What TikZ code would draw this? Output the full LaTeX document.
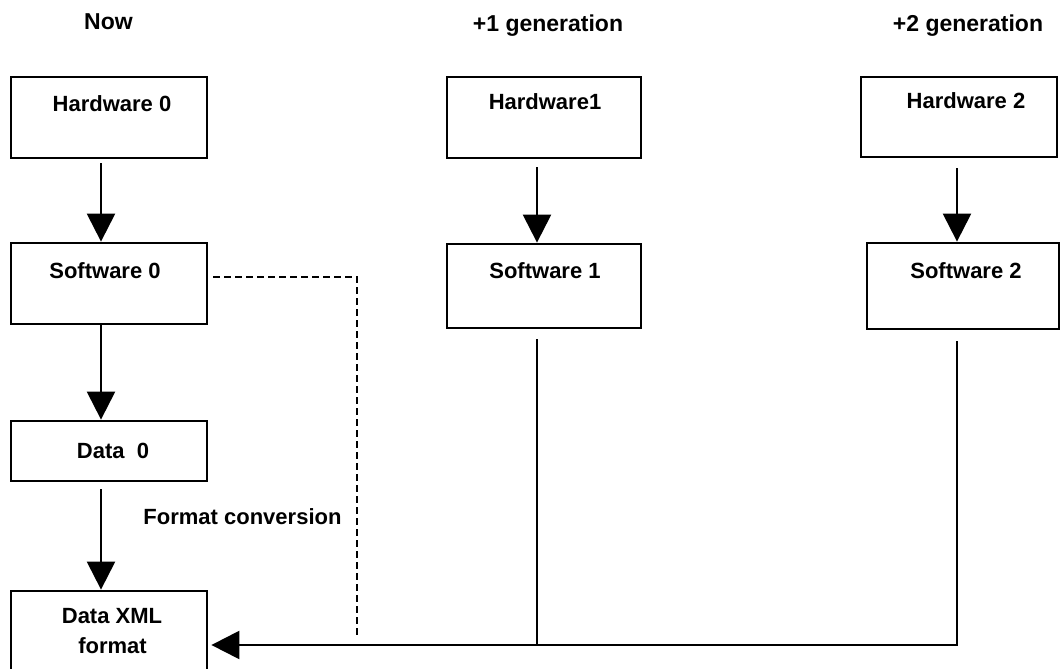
\documentclass[tikz,border=0pt]{standalone}
\usepackage{fontspec}
\setmainfont{Liberation Sans}
\usetikzlibrary{arrows.meta}
\begin{document}
\begin{tikzpicture}[x=1pt,y=-1pt,
  box/.style={draw, line width=2.8pt, inner sep=0pt},
  lbl/.style={font=\fontsize{22}{26}\selectfont\bfseries, inner sep=0pt, anchor=base},
  hdr/.style={font=\fontsize{23}{27}\selectfont\bfseries, inner sep=0pt, anchor=base},
  link/.style={line width=2.3pt},
  arr/.style={link, -{Triangle[length=28pt,width=28pt]}},
  conv/.style={line width=2.3pt, dash pattern=on 7pt off 4pt}]
\clip (0,0) rectangle (1061,669);

% column headings
\node[hdr] (hnow) at (108.5,30) {Now};
\node[hdr] (hone) at (548,32) {+1 generation};
\node[hdr] (htwo) at (968,32) {+2 generation};

% current generation
\node[box, minimum width=196pt, minimum height=81pt] (h0) at (109,117.5) {};
\node[lbl] (h0t) at (112,111) {Hardware 0};
\node[box, minimum width=196pt, minimum height=81pt] (s0) at (109,283.5) {};
\node[lbl] (s0t) at (105,278) {Software 0};
\node[box, minimum width=196pt, minimum height=60pt] (d0) at (109,451) {};
\node[lbl] (d0t) at (113,458) {Data~ 0};
\node[box, minimum width=196pt, minimum height=108pt] (dx) at (109,645) {};
\node[lbl] (dxt1) at (112,623) {Data XML};
\node[lbl] (dxt2) at (112.5,653) {format};

% next generation
\node[box, minimum width=194pt, minimum height=81pt] (h1) at (544,117.5) {};
\node[lbl] (h1t) at (545,110) {Hardware1};
\node[box, minimum width=194pt, minimum height=84pt] (s1) at (544,286) {};
\node[lbl] (s1t) at (545,278) {Software 1};

% generation after next
\node[box, minimum width=196pt, minimum height=80pt] (h2) at (959,117) {};
\node[lbl] (h2t) at (966,109) {Hardware 2};
\node[box, minimum width=192pt, minimum height=86pt] (s2) at (963,286) {};
\node[lbl] (s2t) at (966,278) {Software 2};

\node[lbl] (fc) at (242.5,524) {Format conversion};

% vertical flow arrows
\draw[arr] ([xshift=-8pt,yshift=-4pt]h0.south) -- ([xshift=-8pt]s0.north);
\draw[arr] ([xshift=-8pt]s0.south) -- ([xshift=-8pt]d0.north);
\draw[arr] ([xshift=-8pt,yshift=-7pt]d0.south) -- ([xshift=-8pt]dx.north);
\draw[arr] ([xshift=-7pt,yshift=-8pt]h1.south) -- ([xshift=-7pt]s1.north);
\draw[arr] ([xshift=-2pt,yshift=-10pt]h2.south) -- ([xshift=-6pt]s2.north);

% later generations read back the XML data
\coordinate (j1) at (537,645);
\draw[arr] ([xshift=-6pt,yshift=-11pt]s2.south) |- ([xshift=3pt]dx.east);
\draw[link] ([xshift=-7pt,yshift=-10pt]s1.south) -- (j1);

% conversion path from the current software
\coordinate (dc) at (357,635);
\draw[conv] ([xshift=5pt,yshift=6.5pt]s0.east) -| (dc);
\end{tikzpicture}
\end{document}
